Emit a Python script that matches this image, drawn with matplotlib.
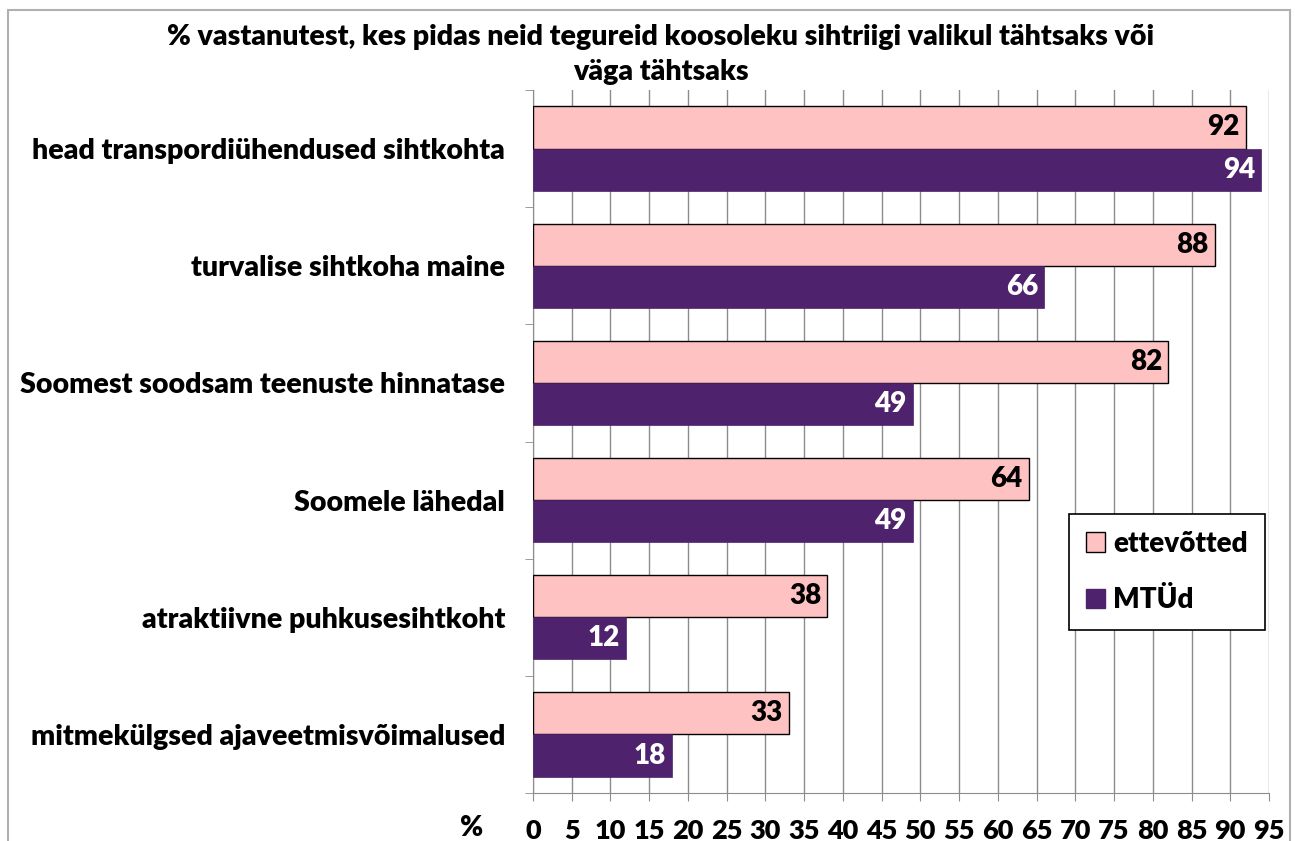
import numpy as np
import matplotlib.pyplot as plt
from matplotlib.patches import Rectangle

plt.rcParams['font.family'] = ['Lato', 'DejaVu Sans']
plt.rcParams['font.weight'] = 'heavy'
W = 'heavy'

categories = ['head transpordiühendused sihtkohta', 'turvalise sihtkoha maine',
              'Soomest soodsam teenuste hinnatase', 'Soomele lähedal',
              'atraktiivne puhkusesihtkoht', 'mitmekülgsed ajaveetmisvõimalused']
ettevotted = [92, 88, 82, 64, 38, 33]
mtud = [94, 66, 49, 49, 12, 18]
series_names = ['ettevõtted', 'MTÜd']
xticks = list(range(0, 100, 5))

pink = '#FFC2C2'
purple = '#4E226C'

fig = plt.figure(figsize=(12.95, 8.41), dpi=100)
# outer chart frame
fig.patches.append(Rectangle((0.006, -0.01), 0.99, 0.998, transform=fig.transFigure,
                             fill=False, edgecolor='#b0b0b0', linewidth=1.5))

ax = fig.add_axes([533 / 1295, 1 - 793 / 841, (1269 - 533) / 1295, (793 - 90) / 841])

n = len(categories)
y = np.arange(n)
h = 0.36
ax.barh(y - h / 2, ettevotted, height=h, color=pink, edgecolor='black', linewidth=1.0, zorder=3)
ax.barh(y + h / 2, mtud, height=h, color=purple, edgecolor=purple, linewidth=0.5, zorder=3)

for i in range(n):
    ax.text(ettevotted[i] - 0.8, y[i] - h / 2, str(ettevotted[i]), ha='right', va='center',
            fontsize=20, fontweight=W, color='black', zorder=4)
    ax.text(mtud[i] - 0.8, y[i] + h / 2, str(mtud[i]), ha='right', va='center',
            fontsize=20, fontweight=W, color='white', zorder=4)

ax.set_xlim(0, 95)
ax.set_ylim(n - 0.5, -0.5)
ax.set_xticks(xticks)
ax.set_xticklabels([str(t) for t in xticks], fontsize=19.5, fontweight=W)
ax.xaxis.grid(True, color='#8c8c8c', linewidth=1.0, zorder=0)
ax.tick_params(axis='x', length=6, color='#8c8c8c', pad=13)

ax.set_yticks(y)
ax.set_yticklabels(categories, fontsize=20.5, fontweight=W)
ax.tick_params(axis='y', length=0, pad=20)
ax.set_yticks(np.arange(n + 1) - 0.5, minor=True)
ax.tick_params(axis='y', which='minor', length=6, color='#8c8c8c')

for s in ['top', 'right']:
    ax.spines[s].set_visible(False)
ax.spines['left'].set_color('#8c8c8c')
ax.spines['bottom'].set_color('#8c8c8c')

ax.text(-0.084, -0.05, '%', transform=ax.transAxes, ha='center', va='center',
        fontsize=20, fontweight=W)

fig.text(0.51, 0.935, '% vastanutest, kes pidas neid tegureid koosoleku sihtriigi valikul tähtsaks või\nväga tähtsaks',
         ha='center', va='center', fontsize=20.5, fontweight=W, linespacing=1.4)

handles = [Rectangle((0, 0), 1, 1, facecolor=pink, edgecolor='black'),
           Rectangle((0, 0), 1, 1, facecolor=purple, edgecolor=purple)]
leg = ax.legend(handles, series_names, loc='upper left', bbox_to_anchor=((1069 - 533) / 736, 1 - (514 - 90) / 703),
                fontsize=20, frameon=True, fancybox=False, edgecolor='black', framealpha=1,
                handlelength=0.7, handleheight=0.7, handletextpad=0.3, labelspacing=1.1,
                borderpad=0.6, borderaxespad=0)
leg.get_frame().set_linewidth(1.2)

fig.savefig('out.png', dpi=100)
